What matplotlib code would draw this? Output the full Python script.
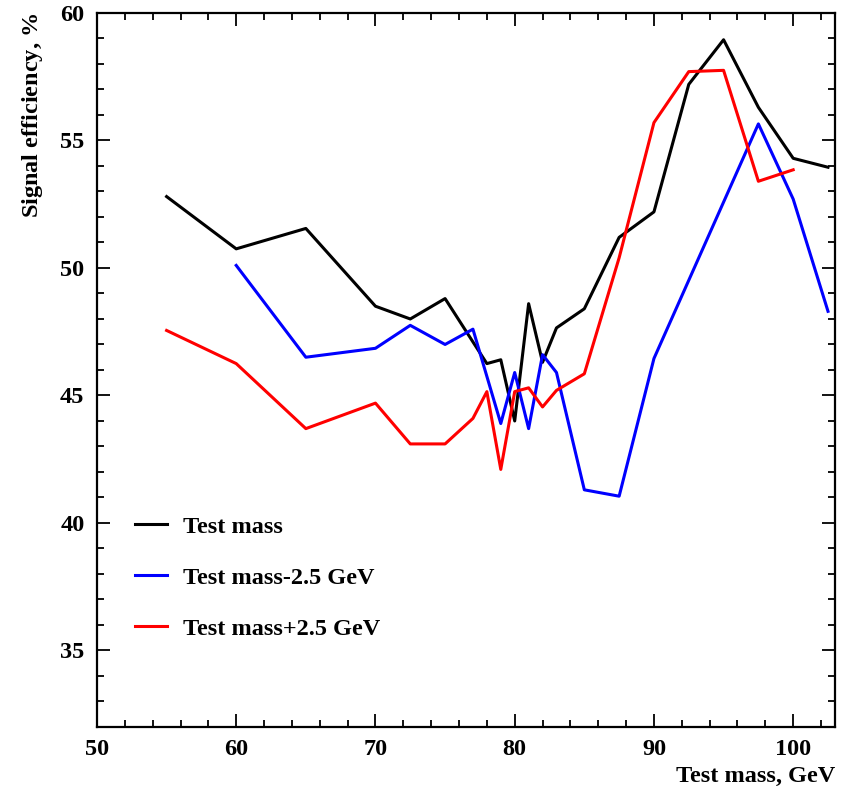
import matplotlib
matplotlib.use("Agg")
import matplotlib.pyplot as plt
from matplotlib.ticker import MultipleLocator

plt.rcParams['font.family'] = ['Liberation Serif', 'DejaVu Serif']
plt.rcParams['font.weight'] = 'bold'
plt.rcParams['mathtext.fontset'] = 'custom'
plt.rcParams['mathtext.it'] = 'Liberation Serif:italic'
plt.rcParams['mathtext.rm'] = 'Liberation Serif:bold'

# signal efficiency (%) vs test mass (GeV)
mass_nominal = [55, 60, 65, 70, 72.5, 75, 78, 79, 80, 81, 82, 83, 85, 87.5, 90, 92.5, 95, 97.5, 100, 102.5]
eff_nominal = [52.8, 50.75, 51.55, 48.5, 48.0, 48.8, 46.25, 46.4, 44.0, 48.6, 46.3, 47.65, 48.4, 51.2,
               52.2, 57.2, 58.95, 56.3, 54.3, 53.95]

mass_minus = [60, 65, 70, 72.5, 75, 77, 79, 80, 81, 82, 83, 85, 87.5, 90, 97.5, 100, 102.5]
eff_minus = [50.1, 46.5, 46.85, 47.75, 47.0, 47.6, 43.9, 45.9, 43.7, 46.6, 45.9, 41.3, 41.05,
             46.45, 55.65, 52.7, 48.3]

mass_plus = [55, 60, 65, 70, 72.5, 75, 77, 78, 79, 80, 81, 82, 83, 85, 87.5, 90, 92.5, 95, 97.5, 100]
eff_plus = [47.55, 46.25, 43.7, 44.7, 43.1, 43.1, 44.1, 45.15, 42.1, 45.15, 45.3, 44.55, 45.2, 45.85,
            50.4, 55.7, 57.7, 57.75, 53.4, 53.85]

FS = 17.5

fig = plt.figure(figsize=(8.44, 7.86), dpi=100)
ax = fig.add_axes([0.1149, 0.0751, 0.8744, 0.9084])

lw = 2.2
ax.plot(mass_nominal, eff_nominal, color='black', lw=lw, label='Test mass')
ax.plot(mass_minus, eff_minus, color='#0000ff', lw=lw, label='Test mass-2.5 GeV')
ax.plot(mass_plus, eff_plus, color='#ff0000', lw=lw, label='Test mass+2.5 GeV')

ax.set_xlim(50, 103)
ax.set_ylim(32, 60)
ax.xaxis.set_major_locator(MultipleLocator(10))
ax.xaxis.set_minor_locator(MultipleLocator(2))
ax.yaxis.set_major_locator(MultipleLocator(5))
ax.yaxis.set_minor_locator(MultipleLocator(1))
ax.tick_params(which='both', direction='in', top=True, right=True, width=1.3,
               labelsize=FS, pad=9)
ax.tick_params(which='major', length=9.5)
ax.tick_params(which='minor', length=5)
for sp in ax.spines.values():
    sp.set_linewidth(1.6)
for lab in ax.get_xticklabels() + ax.get_yticklabels():
    lab.set_fontweight('bold')

ax.set_xlabel('Test mass, GeV', fontsize=FS, fontweight='bold', loc='right', labelpad=4)
ax.set_ylabel('Signal efficiency, $\\mathit{\\%}$', fontsize=FS, fontweight='bold',
              loc='top', labelpad=11)

leg = ax.legend(loc='center left', bbox_to_anchor=(0.0515, 0.209), frameon=False,
                borderpad=0, borderaxespad=0, handlelength=1.3, handletextpad=0.66,
                labelspacing=1.2, prop={'weight': 'bold', 'size': FS})

fig.savefig('out.png', dpi=100)
